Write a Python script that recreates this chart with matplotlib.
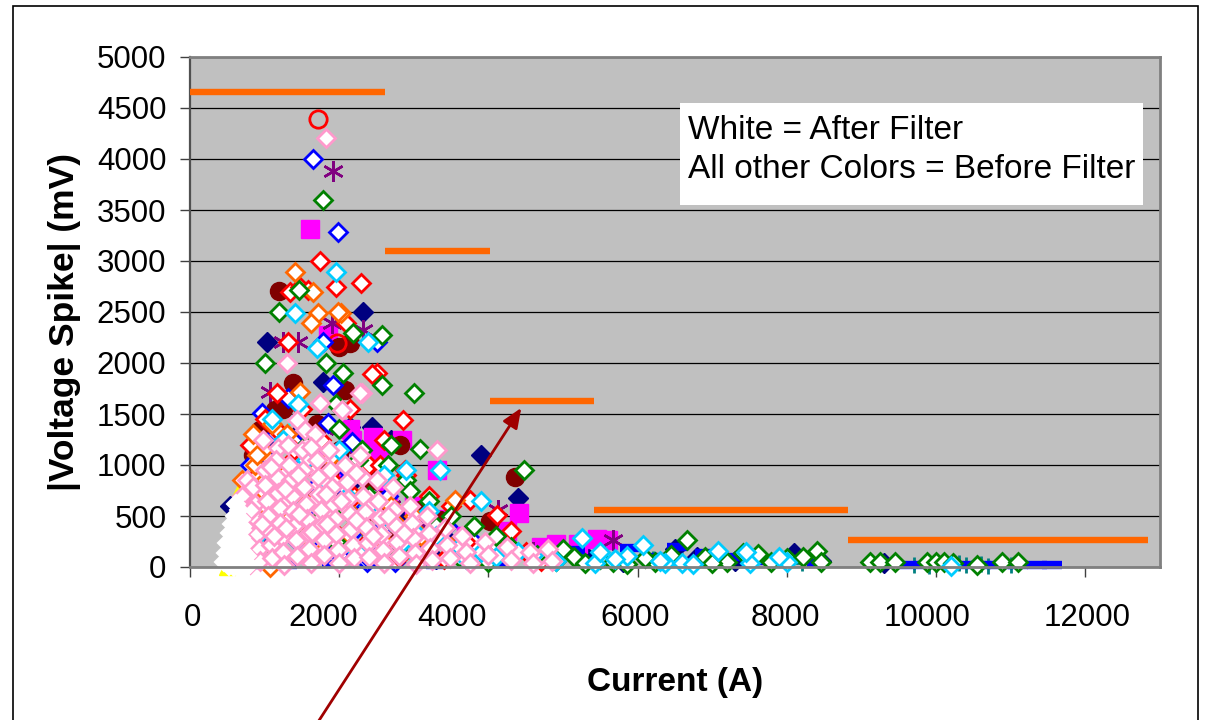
import numpy as np
import matplotlib.pyplot as plt
from matplotlib.patches import Rectangle
from matplotlib.transforms import ScaledTranslation

plt.rcParams['font.family'] = ['Liberation Sans', 'DejaVu Sans']

# current (A), |voltage spike| (mV) per test series
NAVY = np.array([
    (1030, 2210), (2320, 2500), (1780, 1810), (3900, 1100), (4400, 680), (2150, 1370),
    (2440, 1370), (1500, 1350), (2700, 1250), (600, 150), (900, 500), (1300, 900),
    (1900, 750), (2500, 600), (3000, 400), (3400, 300), (5300, 120), (6500, 180),
    (6800, 100), (8100, 140), (8450, 60), (4700, 150), (3600, 250), (1100, 1200),
    (1600, 1050), (2200, 850), (2900, 500), (700, 300), (540, 600), (3300, 80),
    (7300, 60), (9300, 40), (5800, 50),
])
MAGENTA = np.array([
    (1610, 3310), (1850, 2270), (2170, 1250), (2450, 1270), (2840, 1250), (3310, 950),
    (4410, 530), (5460, 275), (3300, 470), (2550, 1150), (2150, 1350), (1700, 1050),
    (2300, 1000), (2000, 900), (4250, 350), (4700, 200), (4900, 230), (1350, 700),
    (1050, 500), (3700, 300), (5200, 230), (5600, 260), (2650, 750), (3000, 600),
])
YELLOW = np.array([(670, 760), (500, 0), (560, 150), (620, 420)])
CYAN_X = np.array([(800, 400), (1200, 900), (1500, 600), (2000, 300), (2600, 200), (1400, 1450), (2900, 120)])
PURPLE = np.array([
    (1920, 3880), (1250, 2210), (1450, 2210), (1900, 2390), (2320, 2320), (1070, 1720),
    (4130, 560), (5670, 265), (2700, 600), (2400, 800), (1600, 1000), (3100, 400),
    (1000, 300), (4600, 150), (3300, 250), (2100, 1150), (1800, 1350), (650, 100),
    (850, 650), (2900, 900),
])
MAROON = np.array([
    (1190, 2710), (1380, 1800), (2150, 2200), (4360, 880), (940, 1340), (1140, 1540),
    (1480, 1250), (2010, 1150), (2820, 1200), (2440, 850), (3080, 560), (4020, 450),
    (2080, 1740), (850, 1100), (2550, 660), (3350, 460), (1880, 950), (2000, 2160),
    (1250, 1550), (1700, 1400), (1600, 700), (1100, 900), (2300, 500), (2700, 300),
    (3600, 200),
])
TEAL = np.array([
    (4600, 80), (5200, 120), (6200, 80), (6600, 60), (8200, 40), (9700, 20), (10000, 30),
    (10200, 10), (10400, 20), (10600, 30), (10700, 10), (11000, 20), (3600, 150),
    (2400, 300), (5900, 100), (7000, 60), (10300, 40), (9900, 10),
])
BLUE_DASH = np.array([
    (9600, 15), (9850, 15), (10100, 15), (10350, 15), (10600, 15), (10850, 15),
    (11100, 20), (11350, 20), (11550, 20), (6900, 140), (7700, 60), (5160, 170),
    (5900, 185), (6530, 195), (6250, 100), (4800, 60), (4200, 30), (3300, 20),
    (2600, 40), (1900, 30), (1300, 20), (900, 15), (8400, 40), (7300, 100),
])
RED_CIRCLE = np.array([(1720, 4390), (1970, 2200)])

BLUE_D = np.array([
    (1650, 4000), (1980, 3280), (1780, 2210), (2510, 2210), (1920, 1780), (965, 1510),
    (1310, 1660), (1850, 1410), (1380, 1250), (2040, 800), (2170, 1230), (2370, 50),
    (1000, 1100), (1150, 1300), (1500, 1000), (1700, 800), (2200, 650), (2300, 550),
    (2600, 400), (2900, 300), (3200, 200), (800, 1000), (1600, 600), (1900, 500),
    (2200, 350), (2500, 250), (2800, 150), (3100, 100), (1200, 350), (1450, 250),
    (1750, 200), (2000, 120), (2400, 80), (700, 500), (950, 700), (2750, 50),
    (2100, 950), (1300, 450), (2650, 700), (3450, 400), (3800, 250),
])
RED_D = np.array([
    (1740, 3000), (2290, 2780), (1310, 2210), (2090, 2390), (2510, 1900), (1170, 1710),
    (2850, 1440), (3750, 660), (4120, 510), (1000, 1450), (1150, 1350), (1400, 1150),
    (1650, 950), (1900, 850), (2200, 700), (2450, 550), (2700, 450), (3000, 350),
    (3300, 300), (3700, 250), (4100, 200), (4500, 150), (900, 900), (1100, 700),
    (1300, 1000), (1600, 400), (2000, 300), (2300, 200), (2800, 100), (3400, 80),
    (4000, 120), (4700, 60), (1500, 1550), (1750, 1250), (2400, 1000), (2900, 900),
    (3500, 600), (4300, 350), (800, 1200), (2150, 1550), (2550, 1000), (3200, 700),
    (700, 50), (1200, 500), (2600, 1250), (1340, 2700), (1480, 2750), (1580, 2720),
    (1950, 2750), (2440, 1890), (2880, 950),
])
ORANGE_D = np.array([
    (1410, 2890), (1720, 2490), (1620, 2390), (2020, 2490), (870, 1000), (980, 1150),
    (1480, 1720), (1570, 1050), (1880, 1070), (1840, 360), (2100, 330), (1650, 390),
    (1070, 0), (750, 700), (800, 400), (650, 200), (1000, 600), (1200, 850),
    (1350, 500), (1550, 300), (1750, 150), (1950, 600), (2200, 500), (2400, 350),
    (2600, 250), (2800, 400), (3100, 300), (3500, 200), (3900, 100), (1300, 1300),
    (1100, 1400), (900, 1100), (1250, 900), (1450, 750), (1650, 650), (2300, 700),
    (2700, 600), (3000, 500), (600, 50), (700, 850), (1650, 2700), (1980, 2500),
    (3550, 660), (850, 1300), (1000, 850), (1150, 600), (800, 700),
])
GREEN_D = np.array([
    (1780, 3600), (1190, 2500), (1460, 2720), (1000, 2000), (1820, 2000), (2190, 2290),
    (2570, 2270), (2050, 1900), (2570, 1780), (3000, 1710), (3080, 1160), (4480, 950),
    (2000, 1350), (2300, 1150), (2650, 1000), (2900, 850), (3200, 650), (3500, 500),
    (3800, 400), (4100, 300), (2700, 1200), (2400, 700), (2100, 550), (1700, 450),
    (1400, 300), (1100, 200), (850, 100), (1550, 1200), (2250, 1050), (2950, 750),
    (3300, 400), (1950, 250), (1300, 650), (2800, 150), (3600, 100), (4300, 200),
    (4000, 50), (1950, 1600),
    (4650, 120), (4900, 60), (5150, 100), (5300, 40), (5500, 80), (5670, 50),
    (5860, 30), (6230, 50), (6450, 120), (6660, 265), (6900, 100), (7200, 50),
    (7410, 140), (7610, 130), (7780, 50), (8000, 90), (8220, 100), (8400, 160),
    (8450, 50), (9120, 50), (9250, 50), (9450, 50), (9880, 50), (10000, 50),
    (10100, 50), (10230, 40), (10550, 20), (10880, 50), (11100, 50), (5000, 180),
    (6100, 90), (7000, 40),
])
CYAN_D = np.array([
    (1960, 2890), (1410, 2490), (1700, 2150), (2390, 2210), (1250, 1250), (1550, 1050),
    (1800, 850), (2100, 700), (2400, 600), (2700, 450), (3000, 350), (3300, 300),
    (3600, 200), (3900, 150), (1100, 1450), (1450, 1600), (2000, 1150), (2600, 900),
    (3200, 550), (4400, 150), (4100, 100), (3700, 80), (900, 300), (2250, 150),
    (2850, 250), (2900, 950), (3350, 950), (3900, 650),
    (5250, 280), (5430, 40), (5860, 110), (6070, 220), (6370, 40), (6600, 40),
    (6740, 30), (7080, 160), (7510, 40), (8000, 50), (5700, 80), (4900, 60),
    (4600, 120), (7900, 100), (6300, 60), (5500, 150), (7450, 150), (10200, 10),
])
PINK_D = np.array([
    (1820, 4210), (1300, 2000), (2310, 1710), (3310, 1150), (1430, 1440), (1540, 1340),
    (1740, 1610), (2280, 1710), (2040, 1540), (980, 1250), (1180, 1170), (760, 850),
    (700, 700), (720, 550), (740, 400), (760, 250), (780, 120), (800, 30),
    (850, 780), (870, 620), (880, 470), (900, 320), (920, 180), (940, 60),
    (1000, 950), (1010, 800), (1030, 650), (1050, 500), (1060, 350), (1080, 220), (1100, 90),
    (1150, 1050), (1160, 880), (1180, 730), (1200, 580), (1210, 430), (1230, 290),
    (1250, 150), (1260, 20),
    (1320, 1200), (1330, 1000), (1350, 850), (1370, 700), (1380, 550), (1400, 400),
    (1420, 260), (1440, 110),
    (1500, 1150), (1510, 950), (1530, 780), (1550, 620), (1570, 470), (1590, 330),
    (1600, 180), (1620, 40),
    (1680, 1300), (1700, 1050), (1710, 880), (1730, 720), (1750, 560), (1770, 410),
    (1790, 260), (1800, 120),
    (1860, 1150), (1880, 950), (1900, 780), (1920, 620), (1940, 470), (1960, 320),
    (1980, 170), (2000, 40),
    (2080, 1000), (2100, 830), (2120, 670), (2140, 520), (2160, 370), (2180, 220), (2200, 90),
    (2280, 1100), (2300, 880), (2320, 700), (2340, 540), (2360, 390), (2380, 240), (2400, 100),
    (2500, 850), (2520, 650), (2540, 480), (2560, 320), (2580, 170), (2600, 40),
    (2720, 780), (2740, 560), (2760, 400), (2780, 250), (2800, 110),
    (2950, 600), (2970, 430), (2990, 280), (3010, 140), (3030, 30),
    (3180, 500), (3200, 330), (3220, 190), (3240, 70),
    (3420, 380), (3450, 220), (3480, 90),
    (3650, 300), (3700, 150), (3750, 40),
    (3950, 250), (4000, 120), (4250, 200), (4300, 70), (4550, 150), (4600, 40),
    (4800, 180), (4850, 60),
    (820, 560), (960, 420), (1120, 300), (1290, 380), (1460, 520), (1640, 340),
    (1840, 420), (2020, 650), (2230, 460), (2450, 300), (2660, 500), (2870, 330),
    (1090, 980), (1270, 760), (1450, 900), (1620, 1180), (1820, 720), (2220, 920),
])
# after filtering
WHITE = np.array([
    (620, 620), (660, 560), (600, 500), (680, 470), (560, 420), (640, 400), (700, 360),
    (540, 330), (610, 300), (680, 280), (740, 240), (500, 240), (570, 200), (640, 180),
    (710, 150), (770, 110), (480, 140), (540, 100), (610, 80), (680, 60), (750, 40),
    (460, 50), (520, 10), (590, 0), (660, 10), (730, 0), (790, 20),
])

# limit envelope
STEP_LEFT = [0, 2610, 4020, 5420, 8820]
STEP_RIGHT = [2610, 4020, 5420, 8820, 12840]
STEP_LEVEL = [4655, 3100, 1630, 560, 265]

X_TICKS = [0, 2000, 4000, 6000, 8000, 10000, 12000]
# horizontal nudge (px) of each current label
X_LABEL_SHIFT = [2, -16, -36, -3, -2, -9, 2]
Y_TICKS = list(range(0, 5001, 500))

fig = plt.figure(figsize=(12.07, 7.2), dpi=100)
ax = fig.add_axes([190 / 1207, 1 - 567 / 720, 970 / 1207, 510 / 720])
ax.set_facecolor('#C0C0C0')
ax.set_xlim(0, 13000)
ax.set_ylim(0, 5000)
ax.set_xticks(X_TICKS)
ax.set_yticks(Y_TICKS)
ax.yaxis.grid(True, color='black', lw=0.9)
ax.set_axisbelow(True)

for side in ['top', 'right', 'bottom']:
    ax.spines[side].set_color('#808080')
    ax.spines[side].set_linewidth(2)
ax.spines['left'].set_color('#505050')
ax.spines['left'].set_linewidth(1.6)

ax.tick_params(axis='both', direction='out', length=7, width=1, color='#404040',
               labelsize=22.5)
ax.tick_params(axis='y', pad=10)
ax.tick_params(axis='x', pad=19)

for lbl, dx in zip(ax.get_xticklabels(), X_LABEL_SHIFT):
    lbl.set_transform(lbl.get_transform() + ScaledTranslation(dx / 100, 0, fig.dpi_scale_trans))


def pts(data, **kw):
    ax.plot(data[:, 0], data[:, 1], linestyle='none', clip_on=False, **kw)


pts(YELLOW, marker='^', ms=12, color='#FFFF00', mec='#FFFF00')
pts(NAVY, marker='D', ms=10, color='#000080', mec='#000080')
pts(MAGENTA, marker='s', ms=13, color='#FF00FF', mec='#FF00FF')
pts(CYAN_X, marker='x', ms=12, mew=2, color='#00FFFF')
pts(PURPLE, marker=(6, 2, 0), ms=15, mew=1.8, color='#800080')
pts(MAROON, marker='o', ms=13, color='#800000', mec='#800000')
pts(TEAL, marker='+', ms=12, mew=2, color='#008080')
pts(BLUE_DASH, marker='_', ms=15, mew=6, color='#0000FF')
pts(RED_CIRCLE, marker='o', ms=12.5, mew=2, mfc='none', mec='#FF0000')

for data, c in [(BLUE_D, '#0000FF'), (RED_D, '#FF0000'), (ORANGE_D, '#FF6600'),
                (GREEN_D, '#008000'), (CYAN_D, '#00CCFF'), (PINK_D, '#FF99CC')]:
    pts(data, marker='D', ms=9, mew=2, mfc='white', mec=c)

pts(WHITE, marker='D', ms=9.5, mew=1.5, mfc='white', mec='white')

ax.hlines(STEP_LEVEL, STEP_LEFT, STEP_RIGHT, colors='#FF6600', lw=4.6,
          capstyle='butt', zorder=5)

# legend note
ax.add_patch(Rectangle((680 / 1207, 1 - 205 / 720), 463 / 1207, 102 / 720,
                       transform=fig.transFigure, facecolor='white',
                       edgecolor='none', zorder=10))
ax.text(688 / 1207, 1 - 150 / 720,
        'White = After Filter\nAll other Colors = Before Filter',
        transform=fig.transFigure, fontsize=24, va='center', ha='left',
        linespacing=1.35, zorder=11)

ax.annotate('', xy=(4440, 1560), xytext=(1680, -1560),
            arrowprops=dict(arrowstyle='-|>,head_length=0.6,head_width=0.25',
                            color='#A00000', lw=2, mutation_scale=20,
                            shrinkA=0, shrinkB=0),
            annotation_clip=False, zorder=12)

fig.text(675 / 1207, 1 - 682 / 720, 'Current (A)', fontsize=24,
         fontweight='bold', ha='center', va='center')
fig.text(65 / 1207, 1 - 322 / 720, '|Voltage Spike| (mV)', fontsize=25.5,
         fontweight='bold', ha='center', va='center', rotation=90)

fig.add_artist(Rectangle((13 / 1207, -0.02), 1185 / 1207, 1.02 - 6 / 720,
                         transform=fig.transFigure, fill=False,
                         edgecolor='black', lw=1.2))

fig.savefig('out.png', dpi=100)
